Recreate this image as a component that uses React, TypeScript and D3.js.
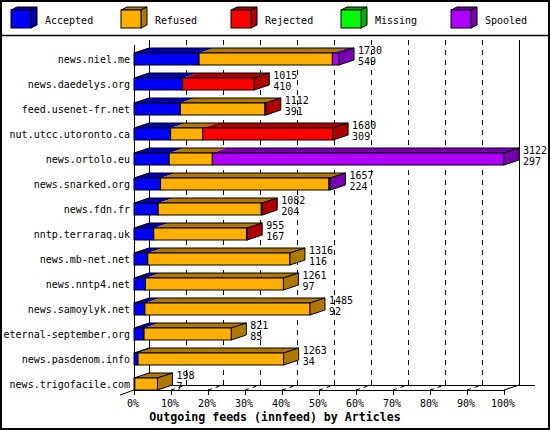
import React from "react";
import * as d3 from "d3";

const categories = [
  "news.niel.me",
  "news.daedelys.org",
  "feed.usenet-fr.net",
  "nut.utcc.utoronto.ca",
  "news.ortolo.eu",
  "news.snarked.org",
  "news.fdn.fr",
  "nntp.terraraq.uk",
  "news.mb-net.net",
  "news.nntp4.net",
  "news.samoylyk.net",
  "eternal-september.org",
  "news.pasdenom.info",
  "news.trigofacile.com",
];
const accepted = [549, 410, 391, 309, 297, 224, 204, 167, 116, 97, 92, 85, 34, 7];
const refused = [1125, 0, 714, 270, 364, 1421, 870, 782, 1200, 1164, 1393, 736, 1229, 191];
const rejected = [0, 605, 7, 1101, 0, 0, 8, 6, 0, 0, 0, 0, 0, 0];
const missing = [0, 0, 0, 0, 0, 0, 0, 0, 0, 0, 0, 0, 0, 0];
const spooled = [56, 0, 0, 0, 2461, 12, 0, 0, 0, 0, 0, 0, 0, 0];

const seriesNames = ["Accepted", "Refused", "Rejected", "Missing", "Spooled"];
const seriesValues = [accepted, refused, rejected, missing, spooled];
const seriesColors = ["#0000ff", "#ffaf00", "#ff0000", "#00ff00", "#af00ff"];
const seriesDark = ["#0000af", "#af7800", "#af0000", "#00af00", "#7800af"];

const percentTicks = [0, 10, 20, 30, 40, 50, 60, 70, 80, 90, 100];
const xTitle = "Outgoing feeds (innfeed) by Articles";

const W = 550;
const H = 430;
const DX = 15;
const DY = 5;
const FONT = "'DejaVu Sans Mono', monospace";

export default function App() {
  const totals = categories.map((_, i) => d3.sum(seriesValues, (s) => s[i]));
  const maxTotal = d3.max(totals) as number;
  const x = d3.scaleLinear().domain([0, maxTotal]).range([134, 504]);
  const px = d3.scaleLinear().domain([0, 100]).range([134, 504]);
  const y = d3.scalePoint<string>().domain(categories).range([59, 384]);
  const floorY = 390;
  const topY = 40;

  const bars = categories.map((cat, i) => {
    const cy = y(cat) as number;
    const top = cy - 6;
    const bottom = cy + 6;
    let acc = 0;
    const segs: { x0: number; x1: number; k: number }[] = [];
    seriesValues.forEach((s, k) => {
      const v = s[i];
      if (v > 0) {
        segs.push({ x0: x(acc), x1: x(acc + v), k });
      }
      acc += v;
    });
    const last = segs[segs.length - 1];
    const X0 = x(0);
    const X1 = x(acc);
    return (
      <g key={cat}>
        {segs.map((s, j) => (
          <polygon
            key={"t" + j}
            points={`${s.x0},${top} ${s.x1},${top} ${s.x1 + DX},${top - DY} ${s.x0 + DX},${top - DY}`}
            fill={seriesDark[s.k]}
          />
        ))}
        <polygon
          points={`${X0},${top} ${X1},${top} ${X1 + DX},${top - DY} ${X0 + DX},${top - DY}`}
          fill="none"
          stroke="#000"
          strokeWidth={1}
        />
        {segs.map((s, j) => (
          <rect
            key={"f" + j}
            x={s.x0}
            y={top}
            width={s.x1 - s.x0}
            height={bottom - top}
            fill={seriesColors[s.k]}
            stroke="#000"
            strokeWidth={1}
          />
        ))}
        {last && (
          <polygon
            points={`${X1},${top} ${X1 + DX},${top - DY} ${X1 + DX},${bottom - DY} ${X1},${bottom}`}
            fill={seriesDark[last.k]}
            stroke="#000"
            strokeWidth={1}
          />
        )}
        <text x={130} y={cy} textAnchor="end" dominantBaseline="central" fontSize={10} fontFamily={FONT}>
          {cat}
        </text>
        <text x={X1 + DX + 4} y={cy - 9} dominantBaseline="central" fontSize={10} fontFamily={FONT}>
          {totals[i]}
        </text>
        <text x={X1 + DX + 4} y={cy + 2} dominantBaseline="central" fontSize={10} fontFamily={FONT}>
          {accepted[i]}
        </text>
      </g>
    );
  });

  return (
    <svg
      width={W}
      height={H}
      style={{ position: "absolute", left: 0, top: 0, background: "#fff" }}
    >
      <rect x={0} y={0} width={W} height={H} fill="#fff" />
      {/* legend */}
      {seriesNames.map((name, k) => {
        const lx = 11 + k * 110;
        const ly = 10;
        const w = 20;
        const h = 18;
        const dx = 6;
        const dy = 3;
        return (
          <g key={name}>
            <polygon
              points={`${lx},${ly} ${lx + w},${ly} ${lx + w + dx},${ly - dy} ${lx + dx},${ly - dy}`}
              fill={seriesDark[k]}
              stroke="#000"
            />
            <polygon
              points={`${lx + w},${ly} ${lx + w + dx},${ly - dy} ${lx + w + dx},${ly + h - dy} ${lx + w},${ly + h}`}
              fill={seriesDark[k]}
              stroke="#000"
            />
            <rect x={lx} y={ly} width={w} height={h} fill={seriesColors[k]} stroke="#000" />
            <text x={lx + 34} y={ly + 10} dominantBaseline="central" fontSize={10} fontFamily={FONT}>
              {name}
            </text>
          </g>
        );
      })}
      <line x1={0} y1={35.5} x2={W} y2={35.5} stroke="#000" strokeWidth={1.5} />

      {/* back plane grid */}
      {percentTicks.slice(1, -1).map((p) => (
        <line
          key={"g" + p}
          x1={px(p) + DX + 0.5}
          x2={px(p) + DX + 0.5}
          y1={topY}
          y2={floorY - DY}
          stroke="#000"
          strokeDasharray="5,5"
        />
      ))}
      <line x1={px(0) + DX + 0.5} x2={px(0) + DX + 0.5} y1={topY} y2={floorY - DY} stroke="#000" />
      <line x1={px(100) + DX + 0.5} x2={px(100) + DX + 0.5} y1={topY} y2={floorY - DY} stroke="#000" />
      <line x1={px(0) + DX} x2={535} y1={floorY - DY + 0.5} y2={floorY - DY + 0.5} stroke="#000" />
      <line x1={px(0) + 0.5} x2={px(0) + 0.5} y1={45} y2={floorY} stroke="#000" />

      {/* floor ticks */}
      {percentTicks.map((p) => (
        <g key={"t" + p}>
          <line x1={px(p) + 0.5} x2={px(p) + 0.5} y1={floorY} y2={floorY + 5} stroke="#000" />
          {p < 100 && (
            <line
              x1={px(p)}
              y1={floorY}
              x2={px(p) + DX}
              y2={floorY - DY}
              stroke="#000"
              strokeDasharray="4,4"
            />
          )}
          <text x={px(p) - 1} y={403} textAnchor="middle" dominantBaseline="central" fontSize={10} fontFamily={FONT}>
            {p + "%"}
          </text>
        </g>
      ))}

      {bars}

      <line x1={px(0)} x2={px(100)} y1={floorY + 0.5} y2={floorY + 0.5} stroke="#000" />
      <line x1={px(100)} y1={floorY} x2={px(100) + DX} y2={floorY - DY} stroke="#000" />
      <line x1={px(0)} y1={floorY} x2={px(0) - 14} y2={floorY + 5} stroke="#000" />

      <text
        x={275}
        y={417}
        textAnchor="middle"
        dominantBaseline="central"
        fontSize={11.6}
        fontWeight="bold"
        fontFamily={FONT}
      >
        {xTitle}
      </text>
      <rect x={1} y={1} width={W - 2} height={H - 2} fill="none" stroke="#000" strokeWidth={2} />
    </svg>
  );
}
